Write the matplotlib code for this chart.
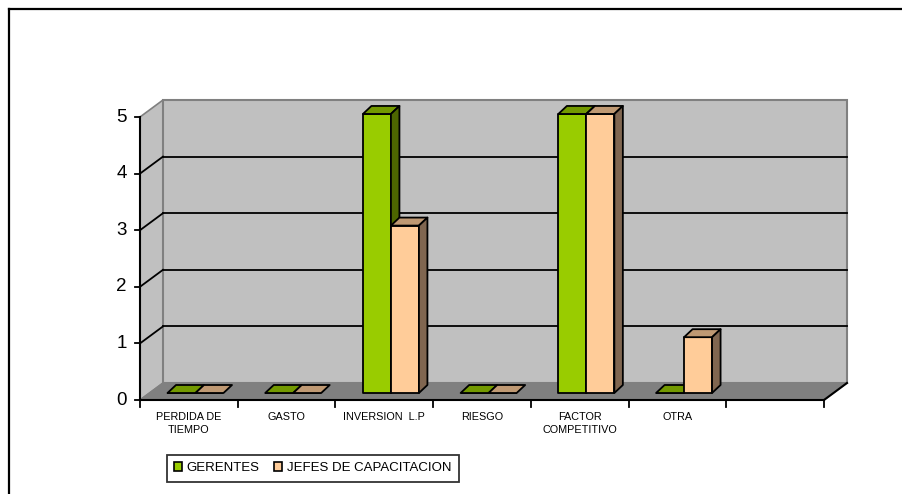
import numpy as np
import matplotlib
matplotlib.use("Agg")
import matplotlib.pyplot as plt
from matplotlib.patches import Polygon, Patch
from matplotlib.lines import Line2D

plt.rcParams['font.family'] = ['Liberation Sans', 'DejaVu Sans']

# ---- data ----
categories = ["PERDIDA DE\nTIEMPO", "GASTO", "INVERSION  L.P", "RIESGO",
              "FACTOR\nCOMPETITIVO", "OTRA", ""]
gerentes = [0, 0, 5, 0, 5, 0, None]
jefes = [0, 0, 3, 0, 5, 1, None]
series_names = ["GERENTES", "JEFES DE CAPACITACION"]
y_ticks = [0, 1, 2, 3, 4, 5]

# ---- style ----
W, H, DPI = 903, 494, 100
SX = 97.714           # px per category unit
SY = 56.6             # px per value unit
X0_PX, Y0_PX = 140, 400
WALL_DX, WALL_DY = 23 / SX, 17 / SY
BAR_OFF, BAR_W = 27.5 / SX, 28 / SX
BAR_BASE = 7 / SY
BAR_DX, BAR_DY = 8.5 / SX, 8 / SY
BAR_SCALE = 0.986     # slight perspective shrink of bar heights

green = dict(front="#99CC00", top="#739900", side="#4D6600")
orange = dict(front="#FFCC99", top="#BF9973", side="#806650")
WALL = "#C0C0C0"
FLOOR = "#808080"
EDGE_GRAY = "#808080"

fig = plt.figure(figsize=(W / DPI, H / DPI), dpi=DPI)
ax = fig.add_axes([0, 0, 1, 1])
ax.set_xlim(-X0_PX / SX, (W - X0_PX) / SX)
ax.set_ylim((Y0_PX - H) / SY, Y0_PX / SY)
ax.axis("off")

n = len(categories)
ymax = max(y_ticks)

# side wall
ax.add_patch(Polygon([(0, 0), (WALL_DX, WALL_DY), (WALL_DX, ymax + WALL_DY), (0, ymax)],
                     closed=True, fc=WALL, ec=EDGE_GRAY, lw=1.2, zorder=1))
# back wall
ax.add_patch(Polygon([(WALL_DX, WALL_DY), (n + WALL_DX, WALL_DY), (n + WALL_DX, ymax + WALL_DY),
                      (WALL_DX, ymax + WALL_DY)], closed=True, fc=WALL, ec=EDGE_GRAY, lw=1.5, zorder=1))
# floor
ax.add_patch(Polygon([(0, 0), (n, 0), (n + WALL_DX, WALL_DY), (WALL_DX, WALL_DY)],
                     closed=True, fc=FLOOR, ec=EDGE_GRAY, lw=1.0, zorder=2))
# gridlines
for v in y_ticks[1:-1]:
    ax.plot([WALL_DX, n + WALL_DX], [v + WALL_DY, v + WALL_DY], color="black", lw=1.3, zorder=3)
    ax.plot([0, WALL_DX], [v, v + WALL_DY], color="black", lw=1.3, zorder=3)

# axes lines
ax.plot([0, 0], [0, ymax], color="black", lw=1.5, zorder=3)
ax.plot([0, n], [0, 0], color="black", lw=1.5, zorder=3)
ax.plot([n, n + WALL_DX], [0, WALL_DY], color="black", lw=1.5, zorder=3)

# y ticks and labels
for v in y_ticks:
    ax.plot([-5 / SX, 0], [v, v], color="black", lw=1.3, zorder=3)
    ax.text(-13 / SX, v, str(v), ha="right", va="center", fontsize=13.5, color="black")
# x ticks and labels
for i in range(n + 1):
    ax.plot([i, i], [0, -7 / SY], color="black", lw=1.3, zorder=3)
for i, lab in enumerate(categories):
    ax.text(i + 0.5, -12 / SY, lab, ha="center", va="top", fontsize=7.8,
            linespacing=1.35, color="black")


def bar3d(xl, val, c):
    y0 = BAR_BASE
    h = val * BAR_SCALE
    kw = dict(closed=True, ec="black", lw=1.3, zorder=5, joinstyle="round")
    ax.add_patch(Polygon([(xl, y0), (xl + BAR_W, y0), (xl + BAR_W, y0 + h), (xl, y0 + h)],
                         fc=c["front"], **kw))
    ax.add_patch(Polygon([(xl, y0 + h), (xl + BAR_DX, y0 + h + BAR_DY),
                          (xl + BAR_W + BAR_DX, y0 + h + BAR_DY), (xl + BAR_W, y0 + h)],
                         fc=c["top"], **kw))
    if h > 0:
        ax.add_patch(Polygon([(xl + BAR_W, y0), (xl + BAR_W + BAR_DX, y0 + BAR_DY),
                              (xl + BAR_W + BAR_DX, y0 + h + BAR_DY), (xl + BAR_W, y0 + h)],
                             fc=c["side"], **kw))


for i in range(n):
    if gerentes[i] is not None:
        bar3d(i + BAR_OFF, gerentes[i], green)
    if jefes[i] is not None:
        bar3d(i + BAR_OFF + BAR_W, jefes[i], orange)

# legend
handles = [Patch(fc=green["front"], ec="black", lw=1.2),
           Patch(fc=orange["front"], ec="black", lw=1.2)]
leg = fig.legend(handles, series_names, ncol=2, loc="upper left",
                 bbox_to_anchor=(167 / W, 1 - 455 / H), frameon=True, fancybox=False,
                 edgecolor="black", fontsize=9.5, handlelength=0.6, handleheight=0.6,
                 handletextpad=0.35, columnspacing=1.1, borderpad=0.55, borderaxespad=0)
leg.get_frame().set_linewidth(1.3)

# outer border (top and left)
fig.add_artist(Line2D([9 / W, 1], [1 - 9 / H, 1 - 9 / H], transform=fig.transFigure,
                      color="black", lw=1.6))
fig.add_artist(Line2D([9 / W, 9 / W], [1 - 9 / H, 0], transform=fig.transFigure,
                      color="black", lw=1.6))

fig.savefig("out.png", dpi=DPI)
